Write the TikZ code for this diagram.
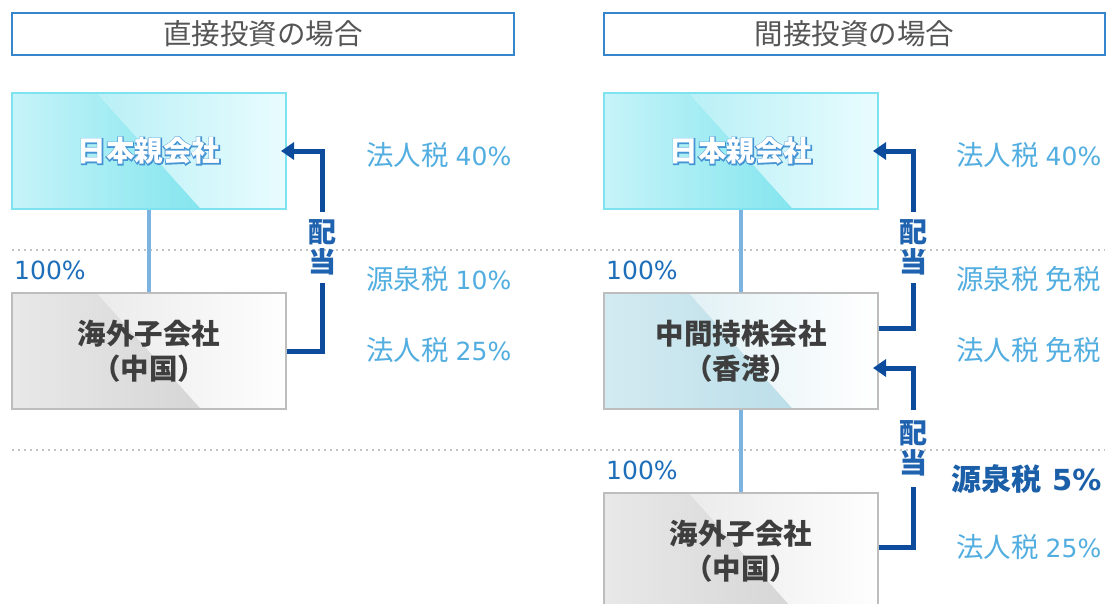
\documentclass[tikz,border=0pt]{standalone}
\usepackage{fontspec}
\setmainfont{Noto Sans CJK JP}
\newfontfamily\glowfont{Noto Sans CJK JP}[FakeBold=7]
\newfontfamily\latinfont{DejaVu Sans}
\usetikzlibrary{arrows.meta,calc}
\definecolor{hdrblue}{HTML}{3586CC}
\definecolor{hdrgray}{HTML}{555555}
\definecolor{boxtext}{HTML}{3E3E3E}
\definecolor{cyanedge}{HTML}{7FE2F0}
\definecolor{grayedge}{HTML}{BDBDBD}
\definecolor{linkblue}{HTML}{7DB3E0}
\definecolor{arrblue}{HTML}{0D4C9C}
\definecolor{haitoblue}{HTML}{1F63B0}
\definecolor{taxblue}{HTML}{52AEE0}
\definecolor{pctblue}{HTML}{1E6FBA}
\definecolor{boldblue}{HTML}{1B5FA8}
\definecolor{glowblue}{HTML}{4594D4}
\definecolor{dotgray}{HTML}{C4C4C4}
\definecolor{cyA}{HTML}{C6F4F9}
\definecolor{cyB}{HTML}{84E5EE}
\definecolor{cyC}{HTML}{B8F0F6}
\definecolor{cyD}{HTML}{E9FCFE}
\definecolor{grA}{HTML}{E8E8E8}
\definecolor{grB}{HTML}{D6D6D6}
\definecolor{grC}{HTML}{EBEBEB}
\definecolor{grD}{HTML}{FEFEFE}
\definecolor{mdA}{HTML}{D3EAF1}
\definecolor{mdB}{HTML}{BCDFE9}
\definecolor{mdC}{HTML}{E2F1F5}
\definecolor{mdD}{HTML}{FFFFFF}
\tikzset{
  hdr/.style={draw=hdrblue, line width=2pt, fill=white, minimum width=502pt, minimum height=42pt,
    inner sep=0pt, text=hdrgray, font=\fontsize{28.5}{32}\selectfont},
  boxfill/.style n args={4}{path picture={
    \path (path picture bounding box.north west) coordinate (@nw)
          (path picture bounding box.north east) coordinate (@ne)
          (path picture bounding box.south west) coordinate (@sw)
          (path picture bounding box.south east) coordinate (@se);
    \shade[left color=#1,right color=#2] (@nw) -- ($(@nw)!0.31!(@ne)$) -- ($(@sw)!0.69!(@se)$) -- (@sw) -- cycle;
    \shade[left color=#3,right color=#4] ($(@nw)!0.31!(@ne)$) -- (@ne) -- (@se) -- ($(@sw)!0.69!(@se)$) -- cycle;
  }},
  basebox/.style={line width=2pt, minimum width=274pt, minimum height=116pt, inner sep=0pt,
    align=center, font=\fontsize{28.5}{35}\selectfont\bfseries, text=boxtext},
  parentbox/.style={basebox, draw=cyanedge, boxfill={cyA}{cyB}{cyC}{cyD}, text=white},
  graybox/.style={basebox, draw=grayedge, boxfill={grA}{grB}{grC}{grD}},
  midbox/.style={basebox, draw=grayedge, boxfill={mdA}{mdB}{mdC}{mdD}},
  link/.style={draw=linkblue, line width=4pt},
  divarrow/.style={draw=arrblue, line width=5pt},
  divhead/.style={divarrow, -{Triangle[length=13pt,width=17pt]}},
  haito/.style={text=haitoblue, font=\fontsize{28}{30}\selectfont\bfseries, align=center, inner sep=0pt},
  tax/.style={text=taxblue, font=\fontsize{27.5}{30}\selectfont, anchor=west, inner sep=0pt},
  taxbold/.style={text=boldblue, font=\fontsize{30}{32}\selectfont\bfseries, anchor=west, inner sep=0pt},
  pct/.style={text=pctblue, font=\fontsize{25}{30}\selectfont\latinfont, anchor=west, inner sep=0pt},
  dotline/.style={draw=dotgray, line width=1.6pt, dash pattern=on 1.6pt off 4.4pt},
}
\newcommand{\glowlabel}[1]{\makebox[0pt]{\glowfont\bfseries\color{glowblue}#1}\makebox[0pt]{\color{white}#1}}
\newcommand{\taxtext}[2]{#1\hspace{7pt}#2}
\newcommand{\num}[1]{{\latinfont\fontsize{25}{30}\selectfont #1}}
\newcommand{\bnum}[1]{{\latinfont\fontsize{29}{30}\selectfont\bfseries #1}}
\begin{document}
\begin{tikzpicture}[x=1pt,y=-1pt]
\useasboundingbox (0,0) rectangle (1111,603);
\clip (0,0) rectangle (1111,603);
\fill[white] (0,0) rectangle (1111,603);

% dotted separators
\coordinate (d1a) at (12,250); \coordinate (d1b) at (1105,250);
\coordinate (d2a) at (12,450); \coordinate (d2b) at (1105,450);
\draw[dotline] (d1a) -- (d1b);
\draw[dotline] (d2a) -- (d2b);

% headers
\node[hdr] (hL) at (263,34) {直接投資の場合};
\node[hdr, minimum width=501pt] (hR) at (854.5,34) {間接投資の場合};

% left side boxes
\node[parentbox] (pL) at (149,151) {\glowlabel{日本親会社}};
\node[graybox] (cL) at (149,351) {海外子会社\\（中国）};
\draw[link] (pL.south) -- (cL.north);
\node[pct] (pctL) at (14,270) {100\%};

% right side boxes
\node[parentbox] (pR) at (741,151) {\glowlabel{日本親会社}};
\node[midbox] (mR) at (741,351) {中間持株会社\\（香港）};
\node[graybox] (cR) at (741,551) {海外子会社\\（中国）};
\draw[link] (pR.south) -- (mR.north);
\draw[link] (mR.south) -- (cR.north);
\node[pct] (pctR1) at (606,270) {100\%};
\node[pct] (pctR2) at (606,470) {100\%};

% dividend arrows, left
\coordinate (aL1) at (322,283);
\coordinate (aL2) at (322,212);
\draw[divarrow, line join=miter] (cL.east) -| (aL1);
\draw[divhead, line join=miter] (aL2) |- ($(pL.east)+(-6,0)$);
\node[haito] (hdL) at (322,247.5) {配\\当};

% dividend arrows, right upper
\coordinate (aR1) at (913,283);
\coordinate (aR2) at (913,212);
\draw[divarrow, line join=miter] ($(mR.east)+(0,-23)$) -| (aR1);
\draw[divhead, line join=miter] (aR2) |- ($(pR.east)+(-6,0)$);
\node[haito] (hdR1) at (913,247.5) {配\\当};

% dividend arrows, right lower
\coordinate (aR3) at (913,487);
\coordinate (aR4) at (913,410);
\draw[divarrow, line join=miter] ($(cR.east)+(0,-4)$) -| (aR3);
\draw[divhead, line join=miter] (aR4) |- ($(mR.east)+(-6,17)$);
\node[haito] (hdR2) at (913,448) {配\\当};

% tax labels, left
\node[tax] (tL1) at (366,155) {\taxtext{法人税}{\num{40\%}}};
\node[tax] (tL2) at (366,279) {\taxtext{源泉税}{\num{10\%}}};
\node[tax] (tL3) at (366,350) {\taxtext{法人税}{\num{25\%}}};

% tax labels, right
\node[tax] (tR1) at (956,155) {\taxtext{法人税}{\num{40\%}}};
\node[tax] (tR2) at (956,279) {\taxtext{源泉税}{免税}};
\node[tax] (tR3) at (956,350) {\taxtext{法人税}{免税}};
\node[taxbold] (tR4) at (951,479) {源泉税\hspace{11pt}\bnum{5\%}};
\node[tax] (tR5) at (956,547) {\taxtext{法人税}{\num{25\%}}};
\end{tikzpicture}
\end{document}
